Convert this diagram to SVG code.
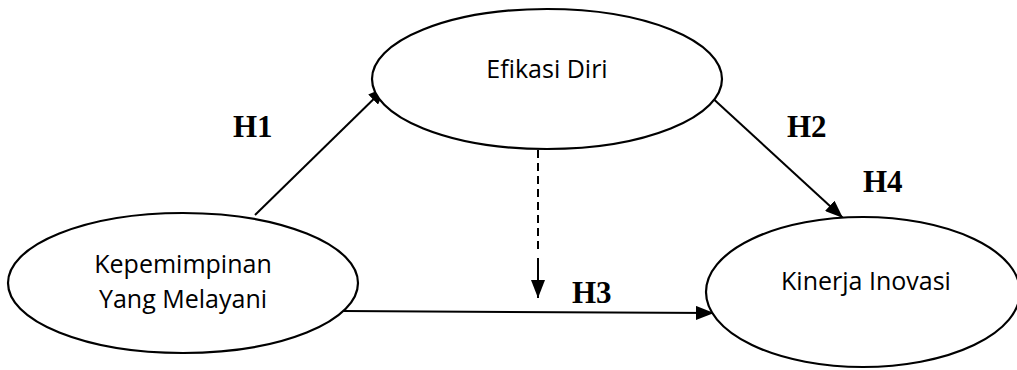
<svg xmlns="http://www.w3.org/2000/svg" width="1017" height="370" viewBox="0 0 1017 370">
<style>
.node{fill:#fff;stroke:#000;stroke-width:2.2}
.lbl{font-family:"Open Sans",sans-serif;font-size:25px;fill:#000;text-anchor:middle}
.h{font-family:"Liberation Serif",serif;font-weight:bold;font-size:31px;fill:#000}
.c{stroke:#000;stroke-width:2;fill:none}
</style>
<defs>
<marker id="ah2" markerWidth="18" markerHeight="14" refX="18" refY="7" orient="auto" markerUnits="userSpaceOnUse" viewBox="0 0 18 14">
<path d="M0,0 L18,7 L0,14 z" fill="#000"/>
</marker>
</defs>
<rect width="1017" height="370" fill="#fff"/>
<g id="connectors">
<line class="c" x1="255" y1="215" x2="386" y2="87" marker-end="url(#ah2)"/>
<line class="c" x1="708" y1="94" x2="843" y2="218" marker-end="url(#ah2)"/>
<line class="c" x1="343" y1="311" x2="714" y2="313" marker-end="url(#ah2)"/>
<line class="c" x1="538" y1="150" x2="538" y2="252" stroke-dasharray="8,5"/>
<line class="c" x1="538" y1="258" x2="538" y2="298" marker-end="url(#ah2)"/>
</g>
<g id="efikasi">
<ellipse class="node" cx="547" cy="79" rx="175" ry="70"/>
<text class="lbl" x="547" y="78">Efikasi Diri</text>
</g>
<g id="kepemimpinan">
<ellipse class="node" cx="183" cy="283" rx="175" ry="70"/>
<text class="lbl" x="183" y="273">Kepemimpinan</text>
<text class="lbl" x="183" y="308">Yang Melayani</text>
</g>
<g id="kinerja">
<ellipse class="node" cx="863" cy="292" rx="157" ry="75"/>
<text class="lbl" x="866" y="290">Kinerja Inovasi</text>
</g>
<g id="labels">
<text class="h" x="233" y="137">H1</text>
<text class="h" x="787" y="137">H2</text>
<text class="h" x="572" y="303">H3</text>
<text class="h" x="863" y="192">H4</text>
</g>
</svg>
